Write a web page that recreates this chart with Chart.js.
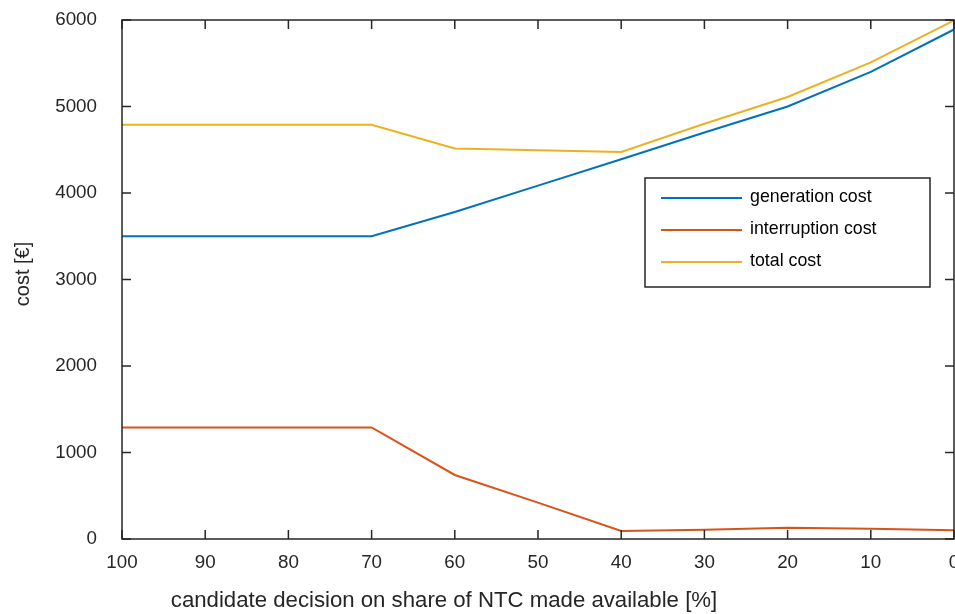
<!DOCTYPE html>
<html>
<head>
<meta charset="utf-8">
<script src="https://cdn.jsdelivr.net/npm/chart.js@4.4.0/dist/chart.umd.min.js"></script>
<style>
  html, body { margin: 0; padding: 0; background: #fff; }
  #wrap { width: 955px; height: 614px; }
</style>
</head>
<body>
<div id="wrap"><canvas id="cost_chart"></canvas></div>
<script>
const shareNTC = [100, 90, 80, 70, 60, 50, 40, 30, 20, 10, 0];
const generationCost = [3500, 3500, 3500, 3500, 3780, 4085, 4390, 4700, 5000, 5400, 5890];
const interruptionCost = [1290, 1290, 1290, 1290, 740, 420, 92, 108, 130, 118, 100];
const totalCost = [4790, 4790, 4790, 4790, 4515, 4495, 4475, 4800, 5110, 5510, 5995];
const seriesNames = ['generation cost', 'interruption cost', 'total cost'];
const yTicks = [0, 1000, 2000, 3000, 4000, 5000, 6000];
const xTitle = 'candidate decision on share of NTC made available [%]';
const yTitle = 'cost [€]';

const axisColor = '#262626';
const fontFamily = '"Liberation Sans", Arial, sans-serif';

function toPoints(values) {
    return values.map((v, i) => ({ x: shareNTC[i], y: v }));
}

// MATLAB style box with inward ticks, axis titles and the legend inside the axes
const matlabBox = {
    id: 'matlabBox',
    afterDraw(chart) {
        const ctx = chart.ctx;
        const area = chart.chartArea;
        const xs = chart.scales.x, ys = chart.scales.y;
        const tl = 9;
        ctx.save();
        ctx.strokeStyle = axisColor;
        ctx.lineWidth = 1.5;
        ctx.strokeRect(area.left, area.top, area.right - area.left, area.bottom - area.top);
        ctx.beginPath();
        xs.ticks.forEach(t => {
            const px = xs.getPixelForValue(t.value);
            ctx.moveTo(px, area.bottom); ctx.lineTo(px, area.bottom - tl);
            ctx.moveTo(px, area.top); ctx.lineTo(px, area.top + tl);
        });
        ys.ticks.forEach(t => {
            const py = ys.getPixelForValue(t.value);
            ctx.moveTo(area.left, py); ctx.lineTo(area.left + tl, py);
            ctx.moveTo(area.right, py); ctx.lineTo(area.right - tl, py);
        });
        ctx.stroke();

        // axis titles
        ctx.fillStyle = axisColor;
        ctx.textAlign = 'center';
        ctx.textBaseline = 'alphabetic';
        ctx.font = '22.2px ' + fontFamily;
        ctx.fillText(xTitle, 444, 607);
        ctx.save();
        ctx.translate(29, 274);
        ctx.rotate(-Math.PI / 2);
        ctx.font = '20px ' + fontFamily;
        ctx.fillText(yTitle, 0, 0);
        ctx.restore();

        // legend
        const lx = 645, ly = 178, lw = 285, lh = 109;
        ctx.fillStyle = '#fff';
        ctx.fillRect(lx, ly, lw, lh);
        ctx.lineWidth = 1.5;
        ctx.strokeStyle = axisColor;
        ctx.strokeRect(lx, ly, lw, lh);
        ctx.font = '17.8px ' + fontFamily;
        ctx.textBaseline = 'middle';
        ctx.textAlign = 'left';
        chart.data.datasets.forEach((ds, i) => {
            const yy = ly + 20 + i * 32;
            ctx.strokeStyle = ds.borderColor;
            ctx.lineWidth = 2;
            ctx.beginPath();
            ctx.moveTo(lx + 16, yy);
            ctx.lineTo(lx + 97, yy);
            ctx.stroke();
            ctx.fillStyle = '#000';
            ctx.fillText(ds.label, lx + 105, yy - 1);
        });
        ctx.restore();
    }
};

var cost_chart = document.getElementById('cost_chart').getContext('2d');
var cost_chart = new Chart(cost_chart, {
    type: 'line',
    data: {
        datasets: [{
            label: seriesNames[0],
            data: toPoints(generationCost),
            borderColor: '#0072BD',
            borderWidth: 2,
            pointRadius: 0,
            tension: 0
        }, {
            label: seriesNames[1],
            data: toPoints(interruptionCost),
            borderColor: '#D95319',
            borderWidth: 2,
            pointRadius: 0,
            tension: 0
        }, {
            label: seriesNames[2],
            data: toPoints(totalCost),
            borderColor: '#EDB120',
            borderWidth: 2,
            pointRadius: 0,
            tension: 0
        }]
    },
    options: {
        responsive: true,
        maintainAspectRatio: false,
        animation: false,
        layout: { padding: { top: 20, right: 1, left: 0, bottom: 0 } },
        plugins: {
            legend: { display: false },
            tooltip: { enabled: false }
        },
        scales: {
            x: {
                type: 'linear',
                reverse: true,
                min: 0,
                max: 100,
                grid: { display: false, drawTicks: false },
                border: { display: false },
                ticks: {
                    stepSize: 10,
                    padding: 13,
                    maxRotation: 0,
                    autoSkip: false,
                    color: '#262626',
                    font: { family: fontFamily, size: 18.8 }
                },
                afterFit(scale) {
                    scale.height = 75;
                    scale.paddingLeft = 0;
                    scale.paddingRight = 0;
                }
            },
            y: {
                min: 0,
                max: 6000,
                grid: { display: false, drawTicks: false },
                border: { display: false },
                afterBuildTicks(scale) { scale.ticks = yTicks.map(v => ({ value: v })); },
                ticks: {
                    padding: 25,
                    color: '#262626',
                    font: { family: fontFamily, size: 18.8 },
                    callback: v => String(v)
                },
                afterFit(scale) {
                    scale.width = 122;
                    scale.paddingTop = 0;
                    scale.paddingBottom = 0;
                }
            }
        }
    },
    plugins: [matlabBox]
});
</script>
</body>
</html>
